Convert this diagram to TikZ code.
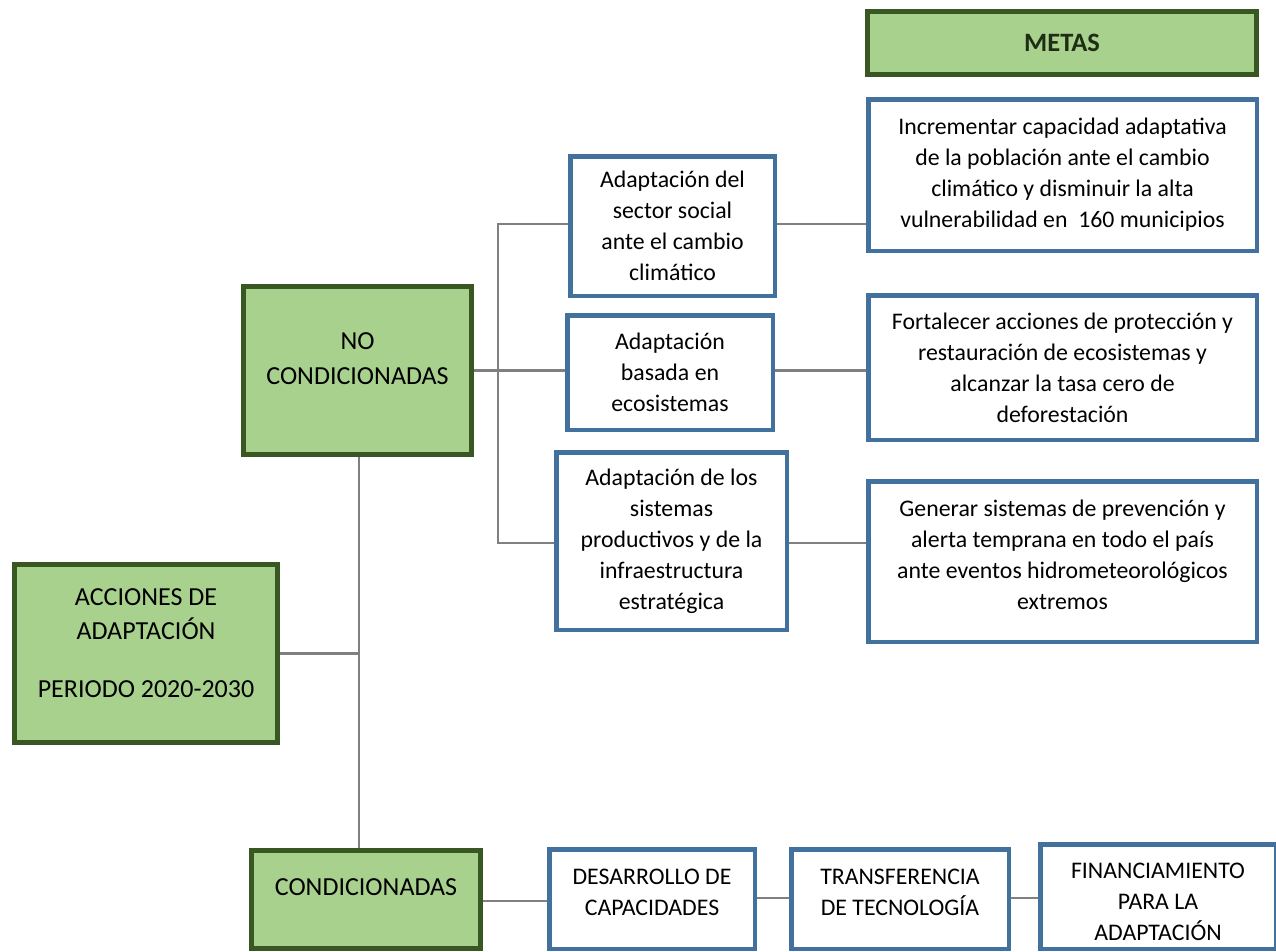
\documentclass[tikz,border=0pt]{standalone}
\usepackage{fontspec}
\setmainfont{Carlito}
\definecolor{gfill}{RGB}{169,209,142}
\definecolor{gline}{RGB}{56,87,35}
\definecolor{bline}{RGB}{65,113,156}
\definecolor{cline}{RGB}{128,128,128}
\definecolor{mtext}{RGB}{30,45,20}
\begin{document}
\begin{tikzpicture}[x=1pt,y=-1pt,
  gbox/.style={draw=gline,fill=gfill,line width=5pt,inner sep=0pt,align=center,font=\fontsize{26}{35}\selectfont},
  bbox/.style={draw=bline,fill=white,line width=4.5pt,inner sep=0pt,align=center,font=\fontsize{23.8}{31}\selectfont},
  conn/.style={draw=cline,line width=2.2pt}]
\path[use as bounding box] (0,0) rectangle (1276,951);
\clip (0,0) rectangle (1276,951);

\node[gbox, minimum width=389pt, minimum height=63pt, text=mtext, font=\fontsize{26.5}{32}\selectfont\bfseries] (metas) at (1062,43) {METAS};
\node[bbox, minimum width=388.5pt, minimum height=151.5pt] (meta1) at (1062.5,175)
  {Incrementar capacidad adaptativa\\de la población ante el cambio\\climático y disminuir la alta\\vulnerabilidad en\ \ 160 municipios};
\node[bbox, minimum width=204.5pt, minimum height=139.5pt] (social) at (672.5,226)
  {Adaptación del\\sector social\\ante el cambio\\climático};
\node[gbox, minimum width=228pt, minimum height=168pt] (nocond) at (357.5,370.5)
  {NO\\CONDICIONADAS\\[-11pt]\mbox{}};
\node[bbox, minimum width=205.5pt, minimum height=114.5pt] (eco) at (670,372.5)
  {Adaptación\\basada en\\ecosistemas};
\node[bbox, minimum width=388.5pt, minimum height=144.5pt] (meta2) at (1062.5,367.5)
  {Fortalecer acciones de protección y\\restauración de ecosistemas y\\alcanzar la tasa cero de\\deforestación};
\node[bbox, minimum width=230.5pt, minimum height=177.5pt] (prod) at (671.5,541)
  {Adaptación de los\\sistemas\\productivos y de la\\infraestructura\\estratégica};
\node[bbox, minimum width=388.5pt, minimum height=160.5pt] (meta3) at (1062.5,561.5)
  {Generar sistemas de prevención y\\alerta temprana en todo el país\\ante eventos hidrometeorológicos\\extremos\\[-17pt]\mbox{}};
\node[gbox, minimum width=263pt, minimum height=178pt, font=\fontsize{26}{34}\selectfont] (acc) at (146,653.5)
  {ACCIONES DE\\ADAPTACIÓN\\[24pt]PERIODO 2020-2030\\[-13pt]\mbox{}};
\node[gbox, minimum width=229pt, minimum height=98pt] (cond) at (366,899.5)
  {CONDICIONADAS\\[-10pt]\mbox{}};
\node[bbox, minimum width=205.5pt, minimum height=99.5pt] (des) at (652,899)
  {DESARROLLO DE\\CAPACIDADES\\[-18pt]\mbox{}};
\node[bbox, minimum width=217.5pt, minimum height=99.5pt] (trans) at (900,899)
  {TRANSFERENCIA\\DE TECNOLOGÍA\\[-18pt]\mbox{}};
\node[bbox, minimum width=235.5pt, minimum height=104.5pt] (fin) at (1158,896.5)
  {\mbox{}\\[-4pt]FINANCIAMIENTO\\PARA LA\\ADAPTACIÓN};

\coordinate (sp1) at (498,224);
\coordinate (sp2) at (498,543);
\coordinate (vx) at (359,0);

\draw[conn] (nocond.east) -- (eco.west |- nocond.east);
\draw[conn] (social.west |- sp1) -- (sp1) -- (sp2) -- (prod.west |- sp2);
\draw[conn] (social.east |- sp1) -- (meta1.west |- sp1);
\draw[conn] (eco.east |- nocond.east) -- (meta2.west |- nocond.east);
\draw[conn] (prod.east |- sp2) -- (meta3.west |- sp2);
\draw[conn] (nocond.south -| vx) -- (cond.north -| vx);
\draw[conn] (acc.east) -- (acc.east -| vx);
\draw[conn] (cond.east |- 0,901) -- (des.west |- 0,901);
\draw[conn] (des.east |- 0,898) -- (trans.west |- 0,898);
\draw[conn] (trans.east |- 0,898) -- (fin.west |- 0,898);
\end{tikzpicture}
\end{document}
